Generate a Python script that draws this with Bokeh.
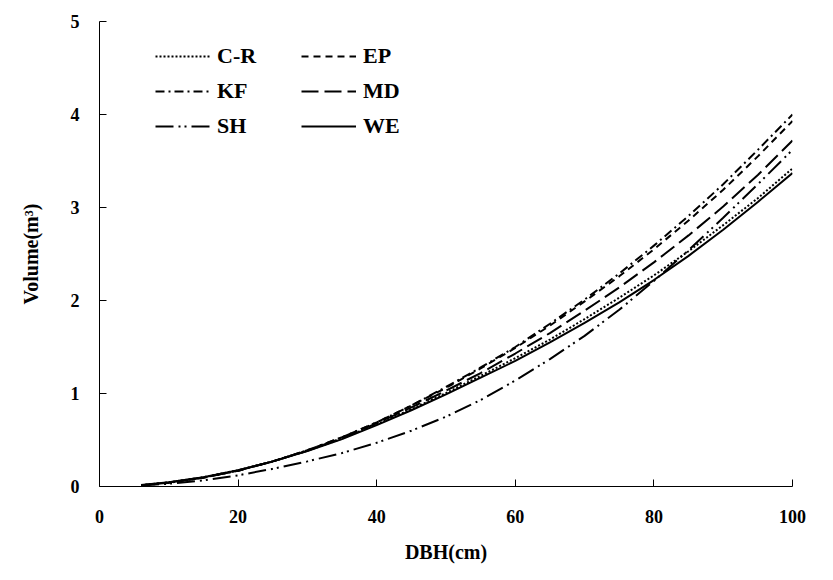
from bokeh.plotting import figure
from bokeh.models import Legend, LegendItem, Range1d, FixedTicker
from bokeh.embed import file_html
from bokeh.resources import INLINE

dbh = [6, 10, 15, 20, 25, 30, 35, 40, 45, 50, 55, 60, 65, 70, 75, 80, 85, 90, 95, 100]

vol_cr = [0.015, 0.045, 0.10, 0.175, 0.27, 0.385, 0.515, 0.67, 0.83, 1.005, 1.19, 1.38, 1.58, 1.80, 2.03, 2.27, 2.53, 2.81, 3.10, 3.42]
vol_ep = [0.012, 0.040, 0.095, 0.17, 0.27, 0.39, 0.53, 0.69, 0.87, 1.06, 1.27, 1.49, 1.73, 1.99, 2.26, 2.55, 2.86, 3.19, 3.55, 3.93]
vol_kf = [0.012, 0.040, 0.095, 0.17, 0.27, 0.39, 0.53, 0.69, 0.87, 1.07, 1.28, 1.50, 1.75, 2.01, 2.29, 2.59, 2.91, 3.25, 3.62, 4.00]
vol_md = [0.013, 0.042, 0.097, 0.17, 0.27, 0.385, 0.52, 0.68, 0.85, 1.03, 1.22, 1.43, 1.65, 1.89, 2.14, 2.41, 2.70, 3.01, 3.35, 3.72]
vol_sh = [0.010, 0.030, 0.065, 0.12, 0.19, 0.27, 0.36, 0.47, 0.60, 0.75, 0.93, 1.14, 1.37, 1.62, 1.90, 2.21, 2.54, 2.89, 3.25, 3.62]
vol_we = [0.015, 0.045, 0.10, 0.175, 0.27, 0.38, 0.51, 0.66, 0.82, 0.99, 1.17, 1.35, 1.55, 1.76, 1.98, 2.22, 2.48, 2.76, 3.06, 3.37]

x_ticks = [0, 20, 40, 60, 80, 100]
y_ticks = [0, 1, 2, 3, 4, 5]

FONT = "'Times New Roman', 'Liberation Serif', 'DejaVu Serif', serif"

p = figure(width=817, height=565, output_backend="svg", toolbar_location=None,
           x_range=Range1d(0, 100), y_range=Range1d(0, 5))
p.min_border_left = 99
p.min_border_right = 25
p.min_border_top = 21
p.min_border_bottom = 76
p.outline_line_color = None
p.xgrid.visible = False
p.ygrid.visible = False

series = [
    ("C-R", vol_cr, "2 2"),
    ("EP", vol_ep, "7 5"),
    ("KF", vol_kf, "9 4 2 4"),
    ("MD", vol_md, "17 6"),
    ("SH", vol_sh, "18 5 2 4 2 5"),
    ("WE", vol_we, "solid"),
]
renderers = {}
for name, vals, dash in series:
    r = p.line(dbh, vals, line_color="black", line_width=2, line_dash=dash)
    renderers[name] = r

order = ["C-R", "KF", "SH", "EP", "MD", "WE"]
legend = Legend(items=[LegendItem(label=n, renderers=[renderers[n]]) for n in order],
                location=(56, 347), orientation="vertical", nrows=3)
legend.border_line_color = None
legend.background_fill_alpha = 0
legend.label_text_font = FONT
legend.label_text_font_style = "bold"
legend.label_text_font_size = "22px"
legend.label_text_color = "black"
legend.glyph_width = 55
legend.glyph_height = 20
legend.label_height = 20
legend.label_width = 75
legend.label_standoff = 7
legend.spacing = 9
legend.padding = 0
legend.margin = 0
p.add_layout(legend, "center")

for ax in (p.xaxis[0], p.yaxis[0]):
    ax.axis_line_color = "black"
    ax.axis_line_width = 1
    ax.major_tick_line_color = "black"
    ax.major_tick_in = 7
    ax.major_tick_out = 0
    ax.minor_tick_line_color = None
    ax.major_label_text_font = FONT
    ax.major_label_text_font_style = "bold"
    ax.major_label_text_font_size = "18px"
    ax.major_label_text_color = "black"
    ax.axis_label_text_font = FONT
    ax.axis_label_text_font_style = "bold"
    ax.axis_label_text_font_size = "20px"
    ax.axis_label_text_color = "black"

p.xaxis.ticker = FixedTicker(ticks=x_ticks)
p.yaxis.ticker = FixedTicker(ticks=y_ticks)
p.xaxis.axis_label = "DBH(cm)"
p.yaxis.axis_label = "Volume(m³)"
p.xaxis.major_label_standoff = 23
p.yaxis.major_label_standoff = 20
p.xaxis.axis_label_standoff = 15
p.yaxis.axis_label_standoff = 26

open("out.html", "w").write(file_html(p, INLINE))
